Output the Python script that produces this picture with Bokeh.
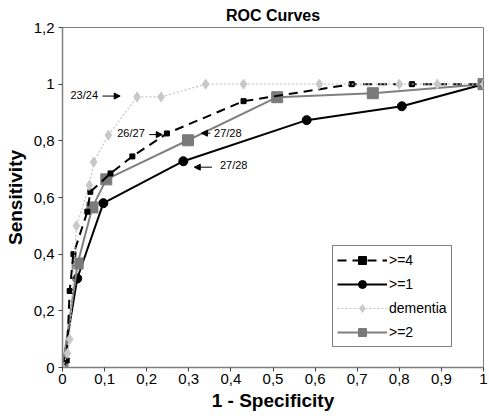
from bokeh.plotting import figure
from bokeh.models import (Range1d, FixedTicker, Legend, LegendItem, Arrow, NormalHead,
                          Label)
from bokeh.embed import file_html
from bokeh.resources import INLINE

# ---- data ----
ge4_x = [0.0, 0.01, 0.017, 0.026, 0.059, 0.066, 0.114, 0.166, 0.248, 0.43, 0.687, 0.83, 1.0]
ge4_y = [0.0, 0.025, 0.27, 0.40, 0.55, 0.62, 0.685, 0.745, 0.826, 0.94, 1.0, 1.0, 1.0]

ge1_x = [0.0, 0.035, 0.097, 0.287, 0.58, 0.806, 1.0]
ge1_y = [0.0, 0.314, 0.58, 0.728, 0.873, 0.922, 1.0]

dem_x = [0.0, 0.012, 0.017, 0.033, 0.064, 0.074, 0.109, 0.177, 0.234, 0.34, 0.43, 0.61, 0.80, 0.89, 1.0]
dem_y = [0.0, 0.05, 0.10, 0.50, 0.643, 0.725, 0.82, 0.955, 0.955, 1.0, 1.0, 1.0, 1.0, 1.0, 1.0]

ge2_x = [0.0, 0.036, 0.071, 0.104, 0.298, 0.51, 0.737, 1.0]
ge2_y = [0.0, 0.367, 0.565, 0.664, 0.802, 0.954, 0.968, 1.0]

x_ticks = [0, 0.1, 0.2, 0.3, 0.4, 0.5, 0.6, 0.7, 0.8, 0.9, 1]
x_tick_labels = ["0", "0,1", "0,2", "0,3", "0,4", "0,5", "0,6", "0,7", "0,8", "0,9", "1"]
y_ticks = [0, 0.2, 0.4, 0.6, 0.8, 1, 1.2]
y_tick_labels = ["0", "0,2", "0,4", "0,6", "0,8", "1", "1,2"]

series_names = [">=4", ">=1", "dementia", ">=2"]
annotations = ["23/24", "26/27", "27/28", "27/28"]

FONT = "Liberation Sans"

p = figure(width=489, height=420, output_backend="svg", toolbar_location=None,
           x_range=Range1d(0, 1), y_range=Range1d(0, 1.2),
           min_border_left=62, min_border_right=6, min_border_top=27, min_border_bottom=53,
           title="ROC Curves")
p.styles = {"position": "absolute", "left": "0px", "top": "0px"}

p.title.align = "center"
p.title.text_font = FONT
p.title.text_font_size = "16px"
p.title.text_font_style = "bold"
p.title.text_color = "black"
p.title.offset = 0
p.title.standoff = 8

p.grid.visible = False
p.outline_line_color = "#808080"
p.outline_line_width = 1

for ax in (p.xaxis[0], p.yaxis[0]):
    ax.axis_line_color = "#808080"
    ax.axis_line_width = 1.5
    ax.major_tick_line_color = "#404040"
    ax.major_tick_in = 0
    ax.major_tick_out = 4
    ax.minor_tick_line_color = None
    ax.major_label_text_font = FONT
    ax.major_label_text_font_size = "15px"
    ax.major_label_text_color = "black"
    ax.axis_label_text_font = FONT
    ax.axis_label_text_font_size = "19px"
    ax.axis_label_text_font_style = "bold"
    ax.axis_label_text_color = "black"

p.xaxis.ticker = FixedTicker(ticks=x_ticks)
p.xaxis.major_label_overrides = {t: l for t, l in zip(x_ticks, x_tick_labels)}
p.yaxis.ticker = FixedTicker(ticks=y_ticks)
p.yaxis.major_label_overrides = {t: l for t, l in zip(y_ticks, y_tick_labels)}
p.xaxis.axis_label = "1 - Specificity"
p.yaxis.axis_label = "Sensitivity"
p.xaxis.major_label_standoff = 2
p.yaxis.major_label_standoff = 4
p.xaxis.axis_label_standoff = 3
p.yaxis.axis_label_standoff = 5

# ---- series ----
l1 = p.line(ge1_x, ge1_y, line_color="black", line_width=2)
m1 = p.scatter(ge1_x, ge1_y, marker="circle", size=9, fill_color="black", line_color="black")

l2 = p.line(ge2_x, ge2_y, line_color="#808080", line_width=2)
m2 = p.scatter(ge2_x, ge2_y, marker="square", size=11, fill_color="#7a7a7a", line_color="#7a7a7a")

l4 = p.line(ge4_x, ge4_y, line_color="black", line_width=2, line_dash="9 6")
m4 = p.scatter(ge4_x, ge4_y, marker="square", size=5, fill_color="black", line_color="black")

ld = p.line(dem_x, dem_y, line_color="#c4c4c4", line_width=1.2, line_dash="2 2")
md = p.scatter(dem_x, dem_y, marker="diamond", size=10, fill_color="#c8c8c8", line_color="#c8c8c8")

# ---- annotations ----
def note(text, x, y):
    p.add_layout(Label(x=x, y=y, text=text, text_font=FONT, text_font_size="11px",
                       text_baseline="middle", text_align="left", text_color="black"))

def arrow(x0, x1, y):
    p.add_layout(Arrow(end=NormalHead(size=6, fill_color="black", line_color="black"),
                       x_start=x0, y_start=y, x_end=x1, y_end=y,
                       line_color="black", line_width=1))

note(annotations[0], 0.019, 0.962)
arrow(0.095, 0.137, 0.958)
note(annotations[1], 0.13, 0.827)
arrow(0.206, 0.237, 0.822)
note(annotations[2], 0.36, 0.827)
arrow(0.351, 0.330, 0.827)
note(annotations[3], 0.374, 0.714)
arrow(0.355, 0.313, 0.707)

# ---- legend ----
legend = Legend(items=[
    LegendItem(label=series_names[0], renderers=[l4, m4]),
    LegendItem(label=series_names[1], renderers=[l1, m1]),
    LegendItem(label=series_names[2], renderers=[ld, md]),
    LegendItem(label=series_names[3], renderers=[l2, m2]),
], location=(270, 20))
legend.border_line_color = "black"
legend.border_line_width = 1.5
legend.padding = 4
legend.spacing = 4
legend.margin = 0
legend.glyph_width = 50
legend.glyph_height = 20
legend.label_height = 20
legend.label_standoff = 2
legend.label_text_font = FONT
legend.label_text_font_size = "14px"
legend.label_text_color = "black"
legend.background_fill_alpha = 1
p.add_layout(legend)

open("out.html", "w").write(file_html(p, INLINE))
